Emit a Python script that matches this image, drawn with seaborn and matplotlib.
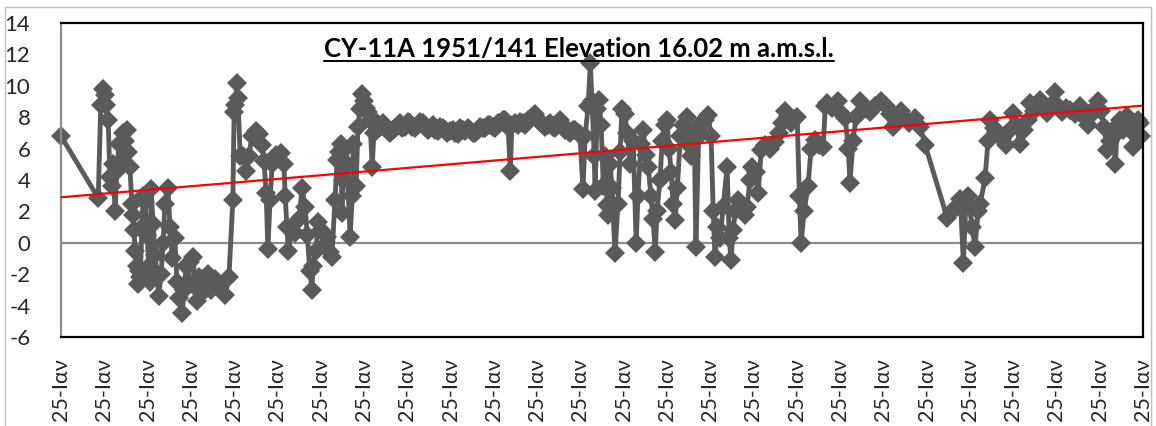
import numpy as np
import pandas as pd
import matplotlib
matplotlib.use("Agg")
import matplotlib.pyplot as plt
import seaborn as sns
from matplotlib.lines import Line2D
from matplotlib.patches import Rectangle

sns.set_theme(style="white")
plt.rcParams['font.family'] = ['Lato', 'Noto Sans', 'DejaVu Sans']

# 时间（自第一个刻度起的年数）与水位读数 (m)
years = [
    0.00, 0.86, 0.92, 0.97, 1.02, 1.04, 1.09, 1.13, 1.18, 1.20, 1.25, 1.29, 1.34, 1.39, 1.43, 1.48,
    1.53, 1.55, 1.59, 1.64, 1.66, 1.69, 1.71, 1.76, 1.78, 1.80, 1.83, 1.87, 1.90, 1.94, 1.99, 2.03,
    2.06, 2.08, 2.13, 2.17, 2.22, 2.26, 2.31, 2.36, 2.40, 2.47, 2.52, 2.57, 2.63, 2.68, 2.73, 2.80,
    2.84, 2.89, 2.94, 2.98, 3.05, 3.10, 3.14, 3.19, 3.26, 3.33, 3.40, 3.47, 3.56, 3.65, 3.79, 3.88,
    3.97, 4.00, 4.02, 4.07, 4.09, 4.14, 4.21, 4.28, 4.34, 4.41, 4.51, 4.58, 4.65, 4.69, 4.74, 4.78,
    4.83, 4.88, 4.97, 5.08, 5.15, 5.18, 5.22, 5.25, 5.34, 5.41, 5.50, 5.57, 5.64, 5.69, 5.75, 5.80,
    5.82, 5.89, 5.94, 6.01, 6.08, 6.15, 6.22, 6.26, 6.33, 6.38, 6.42, 6.47, 6.49, 6.52, 6.56, 6.61,
    6.68, 6.73, 6.75, 6.82, 6.86, 6.91, 6.96, 7.00, 7.05, 7.09, 7.14, 7.19, 7.23, 7.30, 7.37, 7.43,
    7.49, 7.55, 7.60, 7.66, 7.72, 7.78, 7.83, 7.89, 7.95, 8.01, 8.07, 8.12, 8.18, 8.24, 8.30, 8.36,
    8.41, 8.47, 8.53, 8.59, 8.64, 8.70, 8.76, 8.82, 8.87, 8.93, 8.99, 9.05, 9.11, 9.17, 9.22, 9.28,
    9.34, 9.40, 9.45, 9.51, 9.57, 9.63, 9.68, 9.74, 9.80, 9.86, 9.91, 9.97, 10.03, 10.09, 10.15, 10.21,
    10.26, 10.33, 10.38, 10.42, 10.49, 10.55, 10.61, 10.67, 10.72, 10.78, 10.84, 10.90, 10.95, 11.01, 11.07, 11.13,
    11.19, 11.25, 11.30, 11.36, 11.42, 11.48, 11.53, 11.59, 11.65, 11.71, 11.76, 11.82, 11.88, 11.94, 11.99, 12.06,
    12.11, 12.18, 12.23, 12.27, 12.32, 12.34, 12.39, 12.43, 12.48, 12.53, 12.57, 12.62, 12.64, 12.69, 12.73, 12.80,
    12.87, 12.92, 12.96, 13.03, 13.08, 13.15, 13.22, 13.29, 13.33, 13.40, 13.45, 13.52, 13.57, 13.63, 13.68, 13.73,
    13.77, 13.84, 13.89, 13.96, 14.00, 14.05, 14.10, 14.14, 14.19, 14.24, 14.31, 14.37, 14.47, 14.51, 14.56, 14.63,
    14.67, 14.74, 14.81, 14.88, 14.95, 15.02, 15.07, 15.11, 15.16, 15.23, 15.30, 15.39, 15.44, 15.48, 15.53, 15.58,
    15.65, 15.74, 15.81, 15.85, 15.92, 15.97, 16.06, 16.11, 16.18, 16.27, 16.38, 16.50, 16.59, 16.66, 16.73, 16.80,
    16.87, 16.94, 17.01, 17.06, 17.10, 17.17, 17.26, 17.33, 17.43, 17.52, 17.61, 17.66, 17.70, 17.82, 17.96, 18.05,
    18.12, 18.19, 18.23, 18.30, 18.37, 18.46, 18.58, 18.70, 18.81, 18.95, 19.07, 19.16, 19.23, 19.32, 19.41, 19.48,
    19.60, 19.74, 19.85, 19.97, 20.48, 20.59, 20.71, 20.78, 20.85, 20.91, 20.96, 21.05, 21.12, 21.19, 21.24, 21.35,
    21.42, 21.47, 21.56, 21.65, 21.75, 21.84, 21.93, 22.00, 22.07, 22.16, 22.26, 22.35, 22.39, 22.49, 22.56, 22.62,
    22.69, 22.79, 22.86, 22.97, 23.04, 23.13, 23.23, 23.32, 23.43, 23.55, 23.64, 23.73, 23.83, 23.90, 23.97, 24.03,
    24.10, 24.17, 24.24, 24.31, 24.36, 24.40, 24.47, 24.54, 24.64, 24.71, 24.77, 24.84, 24.89, 24.94, 24.96,
]
level = [
    6.8, 2.85, 8.8, 9.8, 9.4, 8.8, 7.8, 4.2, 3.6, 5.0, 2.0, 4.6, 6.3, 5.2, 7.0, 6.5,
    7.2, 5.8, 4.8, 2.5, 1.8, 0.8, -0.5, -1.5, -2.6, -1.8, -2.2, 1.0, 3.0, 2.6, 0.5, -1.5,
    -2.5, 3.4, 1.2, -0.8, -2.0, -3.4, -2.0, 0.0, 2.5, 3.5, 1.0, -1.0, 0.3, -2.5, -3.5, -4.5,
    -3.0, -1.5, -2.5, -1.2, -0.9, -2.8, -3.7, -2.2, -3.2, -2.5, -2.0, -3.0, -2.3, -2.7, -3.3, -2.2,
    2.7, 8.3, 8.8, 10.2, 9.2, 5.5, 5.5, 4.6, 5.5, 6.8, 7.1, 6.9, 6.2, 5.2, 3.2, -0.4,
    2.7, 5.0, 5.6, 5.7, 5.0, 3.0, 1.0, -0.5, 0.8, 0.6, 1.5, 3.5, 2.3, 0.5, -1.8, -3.0,
    -1.5, -0.5, 1.3, 0.8, -0.2, 0.4, -0.6, -0.9, 2.7, 5.3, 5.8, 6.3, 1.9, 4.0, 6.0, 5.0,
    0.4, 3.0, 6.3, 3.6, 7.4, 8.5, 9.5, 9.0, 8.6, 8.3, 7.8, 4.85, 7.0, 7.6, 7.4, 7.6,
    7.3, 7.1, 7.0, 7.2, 7.3, 7.5, 7.6, 7.3, 7.4, 7.7, 7.6, 7.4, 7.3, 7.5, 7.7, 7.6,
    7.4, 7.2, 7.3, 7.5, 7.2, 7.1, 7.4, 7.3, 7.2, 7.0, 7.1, 7.2, 7.0, 6.9, 7.3, 7.2,
    7.1, 7.3, 7.2, 7.0, 7.0, 7.2, 7.4, 7.3, 7.3, 7.5, 7.5, 7.4, 7.3, 7.6, 7.6, 7.8,
    7.8, 7.4, 4.6, 7.5, 7.6, 7.5, 7.7, 7.6, 7.5, 7.8, 7.9, 8.1, 8.2, 7.9, 7.7, 7.5,
    7.4, 7.5, 7.6, 7.4, 7.3, 7.6, 7.8, 7.5, 7.2, 7.1, 7.0, 7.2, 7.2, 7.0, 6.9, 3.4,
    6.8, 8.7, 11.45, 9.0, 5.5, 3.3, 8.5, 9.1, 7.5, 3.6, 5.5, 2.4, 1.8, 5.0, 3.5, -0.66,
    2.5, 5.8, 8.5, 8.2, 7.0, 5.0, 6.5, 0.0, 3.0, 6.3, 7.2, 5.6, 4.8, 3.0, 1.5, -0.6,
    2.0, 4.0, 6.5, 7.5, 7.8, 6.0, 4.5, 2.5, 1.45, 3.5, 6.8, 7.5, 8.0, 6.2, 5.5, 7.2,
    -0.25, 7.5, 7.0, 7.8, 8.15, 6.8, 2.0, -0.9, 1.0, 0.3, 2.3, 4.85, 0.3, -1.1, 0.8, 2.0,
    2.7, 2.2, 1.8, 2.3, 4.0, 4.85, 4.5, 3.2, 5.9, 6.2, 6.0, 6.4, 7.0, 7.6, 8.4, 8.1,
    7.6, 7.9, 8.0, 3.0, 0.0, 2.0, 3.6, 6.0, 6.55, 6.2, 6.1, 8.7, 8.9, 8.6, 9.0, 8.2,
    7.95, 6.0, 3.8, 6.5, 8.0, 9.0, 8.6, 8.35, 8.7, 9.0, 8.7, 8.2, 7.4, 7.7, 8.4, 8.0,
    7.6, 7.95, 7.4, 6.2, 1.55, 2.0, 2.3, 2.8, -1.3, 2.6, 3.0, 1.0, -0.25, 2.0, 2.5, 4.1,
    6.5, 7.8, 7.3, 7.0, 6.6, 6.2, 7.2, 8.25, 7.5, 6.3, 7.2, 7.8, 8.9, 8.4, 8.8, 9.1,
    8.6, 8.25, 8.7, 9.6, 8.7, 8.3, 8.6, 8.45, 8.2, 8.7, 8.0, 7.5, 8.2, 8.6, 9.0, 8.4,
    7.4, 5.9, 6.5, 7.2, 5.05, 7.0, 7.8, 7.2, 8.05, 7.2, 6.1, 7.0, 7.8, 7.6, 6.8,
]

# 线性趋势线（读自图中两端）
trend_years = [0.0, 24.96]
trend_level = [2.9, 8.73]

# 坐标轴刻度
x_ticks = list(range(26))
x_tick_labels = ['25-Ιαν'] * 26
y_ticks = [-6, -4, -2, 0, 2, 4, 6, 8, 10, 12, 14]

title_text = 'CY-11A 1951/141 Elevation 16.02 m a.m.s.l.'

df = pd.DataFrame({'t': years, 'h': level})
trend_df = pd.DataFrame({'t': trend_years, 'h': trend_level})

fig = plt.figure(figsize=(11.56, 4.26), dpi=100)
ax = fig.add_axes([61 / 1156, 1 - 337 / 426, (1143 - 61) / 1156, (337 - 23) / 426])

# 零线
ax.axhline(0, color='#8c8c8c', lw=1.6, zorder=1)

sns.lineplot(data=df, x='t', y='h', ax=ax, color='#5a5a5a', lw=3.5,
             marker='D', markersize=10.5, markeredgewidth=0, estimator=None,
             sort=False, clip_on=False, zorder=2)
sns.lineplot(data=trend_df, x='t', y='h', ax=ax, color='#ff0000', lw=1.6,
             estimator=None, zorder=3)

ax.set_xlim(0, 25)
ax.set_ylim(-6, 14)
ax.set_xticks(x_ticks)
ax.set_xticklabels(x_tick_labels, rotation=90, fontsize=15.5)
ax.set_yticks(y_ticks)
ax.set_yticklabels([str(v) for v in y_ticks], fontsize=16)
ax.tick_params(axis='y', length=0, pad=22)
ax.tick_params(axis='x', length=0, pad=15)
for lab in ax.get_xticklabels():
    lab.set_va('top')
ax.set_xlabel('')
ax.set_ylabel('')
ax.grid(False)

for side in ['top', 'right', 'bottom']:
    ax.spines[side].set_color('black')
    ax.spines[side].set_linewidth(1.6)
ax.spines['left'].set_color('#8c8c8c')
ax.spines['left'].set_linewidth(1.6)

# 标题（加下划线）
title = ax.text(0.4787, 0.892, title_text, transform=ax.transAxes, ha='center',
                va='baseline', fontsize=18.5, fontweight='bold', color='black')
fig.canvas.draw()
bb = title.get_window_extent(fig.canvas.get_renderer())
base_y = ax.transAxes.transform((0, 0.892))[1]
inv = fig.transFigure.inverted()
(x0, yl), (x1, _) = inv.transform([(bb.x0, base_y - 4), (bb.x1, base_y - 4)])
fig.add_artist(Line2D([x0, x1], [yl, yl], transform=fig.transFigure, color='black', lw=1.4))

# 图表区外框
fig.add_artist(Rectangle((5 / 1156, -0.01), 1146 / 1156, 1 - 7 / 426 + 0.01,
                         transform=fig.transFigure, fill=False, edgecolor='#bfbfbf', lw=1))

fig.savefig('out.png', dpi=100)
